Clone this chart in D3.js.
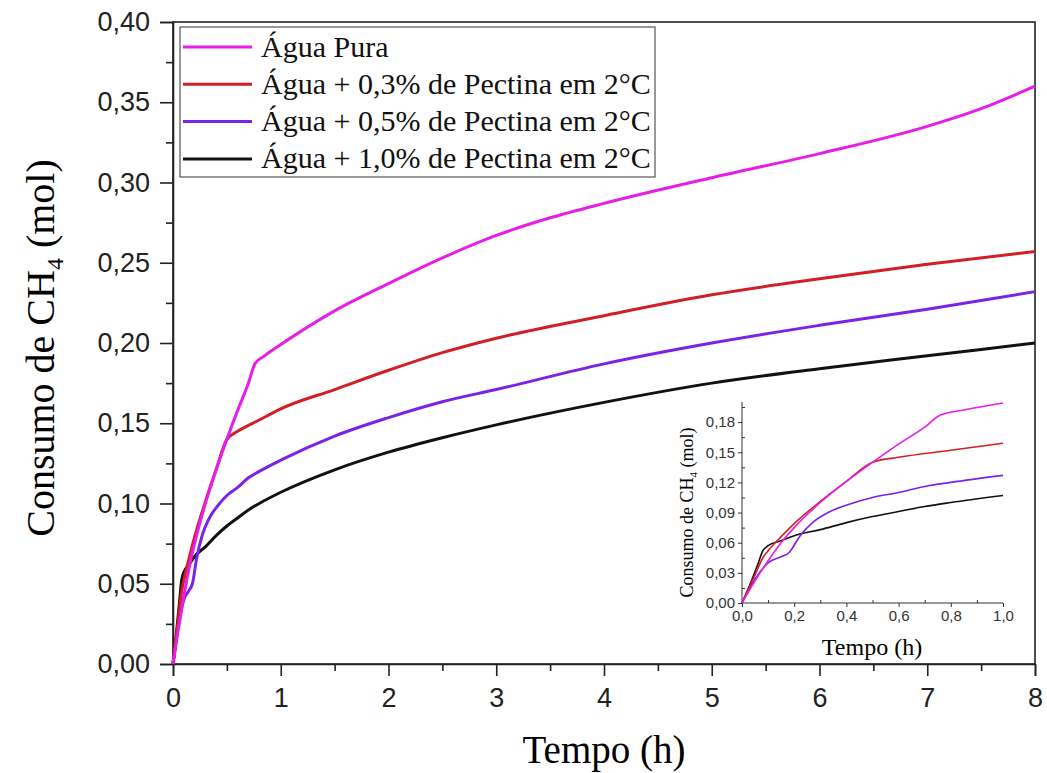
<!DOCTYPE html>
<html>
<head>
<meta charset="utf-8">
<script src="https://cdn.jsdelivr.net/npm/d3@7"></script>
<style>
body { margin: 0; background: #fff; }
svg { display: block; }
</style>
</head>
<body>
<div class="chart"></div>
<script>
// series data (time in h, consumption in mol)
const pureT = [0, 0.05, 0.1, 0.15, 0.2, 0.3, 0.4, 0.5, 0.6, 0.7, 0.76, 0.85, 1.0, 1.5, 2, 2.5, 3, 3.5, 4, 5, 6, 7, 7.5, 8];
const pureY = [0, 0.022, 0.042, 0.060, 0.075, 0.100, 0.121, 0.140, 0.158, 0.175, 0.187, 0.192, 0.199, 0.220, 0.237, 0.253, 0.267, 0.278, 0.287, 0.303, 0.318, 0.335, 0.346, 0.360];

const p03T = [0, 0.05, 0.08, 0.1, 0.15, 0.2, 0.3, 0.4, 0.5, 0.6, 0.8, 1.0, 1.5, 2, 2.5, 3, 4, 5, 6, 7, 8];
const p03Y = [0, 0.028, 0.045, 0.052, 0.066, 0.079, 0.101, 0.121, 0.140, 0.145, 0.152, 0.159, 0.171, 0.183, 0.194, 0.203, 0.217, 0.230, 0.240, 0.249, 0.257];

const p05T = [0, 0.05, 0.1, 0.15, 0.18, 0.22, 0.27, 0.33, 0.42, 0.5, 0.6, 0.7, 0.8, 1.0, 1.5, 2, 2.5, 3, 4, 5, 6, 7, 8];
const p05Y = [0, 0.024, 0.040, 0.046, 0.050, 0.066, 0.080, 0.090, 0.099, 0.105, 0.110, 0.116, 0.120, 0.127, 0.142, 0.1535, 0.1634, 0.171, 0.187, 0.200, 0.211, 0.221, 0.232];

const p10T = [0, 0.03, 0.06, 0.08, 0.1, 0.15, 0.2, 0.3, 0.4, 0.5, 0.6, 0.7, 0.8, 1.0, 1.5, 2, 2.5, 3, 4, 5, 6, 7, 8];
const p10Y = [0, 0.018, 0.038, 0.052, 0.057, 0.062, 0.067, 0.073, 0.080, 0.086, 0.091, 0.096, 0.100, 0.107, 0.121, 0.132, 0.141, 0.149, 0.163, 0.175, 0.184, 0.192, 0.200];

const seriesNames = ['Água Pura', 'Água + 0,3% de Pectina em 2°C', 'Água + 0,5% de Pectina em 2°C', 'Água + 1,0% de Pectina em 2°C'];
const seriesColors = ['#e61ee6', '#d21f26', '#7a22e8', '#111111'];

const xTicks = [0, 1, 2, 3, 4, 5, 6, 7, 8];
const yTicks = [0, 0.05, 0.10, 0.15, 0.20, 0.25, 0.30, 0.35, 0.40];
const insetXTicks = [0, 0.2, 0.4, 0.6, 0.8, 1.0];
const insetYTicks = [0, 0.03, 0.06, 0.09, 0.12, 0.15, 0.18];

const series = [[pureT, pureY], [p03T, p03Y], [p05T, p05Y], [p10T, p10Y]].map(function(s, i) {
	return {
		name: seriesNames[i],
		color: seriesColors[i],
		values: s[0].map((t, j) => [t, s[1][j]])
	};
});

const w = 1047;
const h = 773;
const fmt2 = (d) => d3.format('.2f')(d).replace('.', ',');
const fmt1 = (d) => d3.format('.1f')(d).replace('.', ',');
const sans = 'Liberation Sans, Arial, sans-serif';
const serif = 'Liberation Serif, Times New Roman, serif';

const svg = d3.select('.chart').append('svg').attr('width', w).attr('height', h);

// main scales
const pLeft = 173, pRight = 1035, pTop = 22, pBottom = 664;
const xScale = d3.scaleLinear().domain([0, 8]).range([pLeft, pRight]);
const yScale = d3.scaleLinear().domain([0, 0.4]).range([pBottom, pTop]);

// frame
svg.append('rect')
	.attr('x', pLeft).attr('y', pTop)
	.attr('width', pRight - pLeft).attr('height', pBottom - pTop)
	.attr('fill', 'none').attr('stroke', '#222').attr('stroke-width', 1.6);

// x axis
const xAxis = svg.append('g')
	.attr('transform', 'translate(0,' + pBottom + ')')
	.call(d3.axisBottom(xScale).tickValues(xTicks).tickSize(12).tickPadding(12).tickFormat(d3.format('d')));
svg.append('g')
	.attr('transform', 'translate(0,' + pBottom + ')')
	.call(d3.axisBottom(xScale).tickValues(d3.range(0.5, 8, 1)).tickSize(7).tickFormat(''))
	.call((g) => g.select('.domain').remove());

// y axis
const yAxis = svg.append('g')
	.attr('transform', 'translate(' + pLeft + ',0)')
	.call(d3.axisLeft(yScale).tickValues(yTicks).tickSize(13).tickPadding(10).tickFormat(fmt2));
svg.append('g')
	.attr('transform', 'translate(' + pLeft + ',0)')
	.call(d3.axisLeft(yScale).tickValues(d3.range(0.025, 0.4, 0.05)).tickSize(7).tickFormat(''))
	.call((g) => g.select('.domain').remove());

svg.selectAll('.tick line').attr('stroke', '#222').attr('stroke-width', 1.6);
svg.selectAll('.domain').attr('stroke', '#222').attr('stroke-width', 1.6);
xAxis.selectAll('text').attr('font-family', sans).attr('font-size', '27px').attr('fill', '#222');
yAxis.selectAll('text').attr('font-family', sans).attr('font-size', '27px').attr('fill', '#222');

// axis titles
svg.append('text')
	.attr('x', (pLeft + pRight) / 2)
	.attr('y', 763)
	.attr('text-anchor', 'middle')
	.attr('font-family', serif)
	.attr('font-size', '39px')
	.text('Tempo (h)');

const yTitle = svg.append('text')
	.attr('transform', 'translate(54,' + ((pTop + pBottom) / 2 + 5) + ') rotate(-90)')
	.attr('text-anchor', 'middle')
	.attr('font-family', serif)
	.attr('font-size', '40px');
yTitle.append('tspan').text('Consumo de CH');
yTitle.append('tspan').attr('font-size', '24px').attr('dy', '9').text('4');
yTitle.append('tspan').attr('dy', '-9').text(' (mol)');

// lines
const line = d3.line()
	.x((d) => xScale(d[0]))
	.y((d) => yScale(d[1]))
	.curve(d3.curveMonotoneX);

const order = [3, 2, 1, 0];
svg.append('g').selectAll('path')
	.data(order.map((i) => series[i]))
	.enter()
	.append('path')
	.attr('d', (d) => line(d.values))
	.attr('fill', 'none')
	.attr('stroke', (d) => d.color)
	.attr('stroke-width', 3);

// legend
const legend = svg.append('g');
legend.append('rect')
	.attr('x', 180).attr('y', 27)
	.attr('width', 475).attr('height', 150)
	.attr('fill', '#fff').attr('stroke', '#333').attr('stroke-width', 1);
series.forEach(function(s, i) {
	const ly = 47 + i * 37.3;
	legend.append('line')
		.attr('x1', 183).attr('x2', 252)
		.attr('y1', ly).attr('y2', ly)
		.attr('stroke', s.color).attr('stroke-width', 3);
	legend.append('text')
		.attr('x', 261).attr('y', ly + 9.5)
		.attr('font-family', serif)
		.attr('font-size', '30px')
		.attr('fill', '#111')
		.text(s.name);
});

// inset
const iLeft = 742, iRight = 1003, iTop = 402, iBottom = 603;
const ix = d3.scaleLinear().domain([0, 1]).range([iLeft, iRight]);
const iy = d3.scaleLinear().domain([0, 0.2]).range([iBottom, iTop]);

const inset = svg.append('g');
inset.append('g')
	.attr('transform', 'translate(0,' + iBottom + ')')
	.call(d3.axisBottom(ix).tickValues(insetXTicks).tickSize(4).tickPadding(3).tickFormat(fmt1))
	.call((g) => g.select('.domain').attr('d', 'M' + iLeft + ',0H' + iRight));
inset.append('g')
	.attr('transform', 'translate(0,' + iBottom + ')')
	.call(d3.axisBottom(ix).tickValues(d3.range(0.1, 1, 0.2)).tickSize(-3).tickFormat(''))
	.call((g) => g.select('.domain').remove());
inset.append('g')
	.attr('transform', 'translate(' + iLeft + ',0)')
	.call(d3.axisLeft(iy).tickValues(insetYTicks).tickSize(4).tickPadding(3).tickFormat(fmt2))
	.call((g) => g.select('.domain').attr('d', 'M0,' + iBottom + 'V' + iTop));
inset.append('g')
	.attr('transform', 'translate(' + iLeft + ',0)')
	.call(d3.axisLeft(iy).tickValues(d3.range(0.015, 0.2, 0.03)).tickSize(-3).tickFormat(''))
	.call((g) => g.select('.domain').remove());
inset.selectAll('.domain, .tick line').attr('stroke', '#333').attr('stroke-width', 1);
inset.selectAll('text').attr('font-family', sans).attr('font-size', '15px').attr('fill', '#333');

inset.append('text')
	.attr('x', 872)
	.attr('y', 655)
	.attr('text-anchor', 'middle')
	.attr('font-family', serif)
	.attr('font-size', '24px')
	.text('Tempo (h)');

const iyTitle = inset.append('text')
	.attr('transform', 'translate(693,' + ((iTop + iBottom) / 2 + 10) + ') rotate(-90)')
	.attr('text-anchor', 'middle')
	.attr('font-family', serif)
	.attr('font-size', '18px');
iyTitle.append('tspan').text('Consumo de CH');
iyTitle.append('tspan').attr('font-size', '11px').attr('dy', '4').text('4');
iyTitle.append('tspan').attr('dy', '-4').text(' (mol)');

const iline = d3.line()
	.x((d) => ix(d[0]))
	.y((d) => iy(d[1]))
	.curve(d3.curveMonotoneX);

inset.append('g').selectAll('path')
	.data(order.map((i) => series[i]))
	.enter()
	.append('path')
	.attr('d', (d) => iline(d.values.filter((v) => v[0] <= 1)))
	.attr('fill', 'none')
	.attr('stroke', (d) => d.color)
	.attr('stroke-width', 1.6);
</script>
</body>
</html>
